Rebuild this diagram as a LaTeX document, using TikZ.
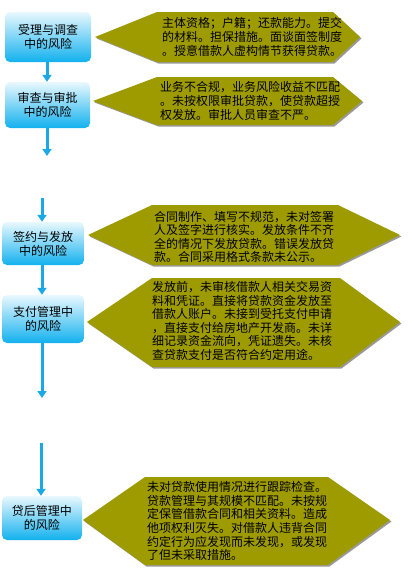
\documentclass[tikz,border=0pt]{standalone}
\usepackage{fontspec}
\setmainfont{Noto Sans CJK SC}
\usetikzlibrary{arrows.meta,shadows}

\definecolor{stagetop}{HTML}{E9F8FE}
\definecolor{stagebottom}{HTML}{12B1EE}
\definecolor{flowblue}{HTML}{1BA8E6}
\definecolor{riskolive}{HTML}{9E9B00}

\tikzset{
  stage/.style={rounded corners=5pt, top color=stagetop, bottom color=stagebottom,
    align=center, inner sep=0pt, font=\fontsize{12}{14}\selectfont},
  flow/.style={flowblue, line width=3pt, -{Triangle[width=9pt,length=7pt]}},
  riskhex/.style={fill=riskolive, drop shadow={fill=black!40, opacity=1,
    shadow xshift=1.5pt, shadow yshift=-1.5pt}},
  risktext/.style={anchor=west, align=left, inner sep=0pt,
    font=\fontsize{12}{13.6}\selectfont}
}

\begin{document}
\begin{tikzpicture}[x=1pt, y=-1pt]
  \useasboundingbox (0,0) rectangle (418,576);

  % Risk descriptions (olive hexagons)
  \path[riskhex] (95,37) -- (157,12) -- (333,12) -- (360,37) -- (333,62) -- (157,62) -- cycle;
  \path[riskhex] (93,101) -- (157,77) -- (333,77) -- (362,101) -- (333,125) -- (157,125) -- cycle;
  \path[riskhex] (88,235) -- (152,205) -- (338,205) -- (400,235) -- (338,265) -- (152,265) -- cycle;
  \path[riskhex] (87,322) -- (152,278) -- (340,278) -- (400,322) -- (340,367) -- (152,367) -- cycle;
  \path[riskhex] (83,520) -- (145,477) -- (328,477) -- (390,520) -- (328,565) -- (145,565) -- cycle;

  \node[risktext] (r1) at (162,37) {主体资格；户籍；还款能力。提交\\的材料。担保措施。面谈面签制度\\。授意借款人虚构情节获得贷款。};
  \node[risktext] (r2) at (160,101) {业务不合规，业务风险收益不匹配\\。未按权限审批贷款，使贷款超授\\权发放。审批人员审查不严。};
  \node[risktext] (r3) at (154,237) {合同制作、填写不规范，未对签署\\人及签字进行核实。发放条件不齐\\全的情况下发放贷款。错误发放贷\\款。合同采用格式条款未公示。};
  \node[risktext] (r4) at (152,321) {发放前，未审核借款人相关交易资\\料和凭证。直接将贷款资金发放至\\借款人账户。未接到受托支付申请\\，直接支付给房地产开发商。未详\\细记录资金流向，凭证遗失。未核\\查贷款支付是否符合约定用途。};
  \node[risktext] (r5) at (147,521) {未对贷款使用情况进行跟踪检查。\\贷款管理与其规模不匹配。未按规\\定保管借款合同和相关资料。造成\\他项权利灭失。对借款人违背合同\\约定行为应发现而未发现，或发现\\了但未采取措施。};

  % Stages (blue boxes)
  \node[stage, minimum width=86pt, minimum height=50pt] (s1) at (48,37) {受理与调查\\中的风险};
  \node[stage, minimum width=85pt, minimum height=46pt] (s2) at (47.5,105) {审查与审批\\中的风险};
  \node[stage, minimum width=82pt, minimum height=43pt] (s3) at (43,243.5) {签约与发放\\中的风险};
  \node[stage, minimum width=82pt, minimum height=48pt] (s4) at (43,319) {支付管理中\\的风险};
  \node[stage, minimum width=80pt, minimum height=44pt] (s5) at (42,518) {贷后管理中\\的风险};

  % Loose arrow ends
  \coordinate (stop1) at (47,156);
  \coordinate (start1) at (42,198);
  \coordinate (stop2) at (42,398);
  \coordinate (start2) at (41,443);

  % Flow arrows
  \draw[flow] (s1.south -| 47,0) -- (s2.north -| 47,0);
  \draw[flow] (s2.south -| stop1) -- (stop1);
  \draw[flow] (start1) -- (s3.north -| start1);
  \draw[flow] (s3.south -| stop2) -- (s4.north -| stop2);
  \draw[flow] (s4.south -| stop2) -- (stop2);
  \draw[flow] (start2) -- (s5.north -| start2);
\end{tikzpicture}
\end{document}
